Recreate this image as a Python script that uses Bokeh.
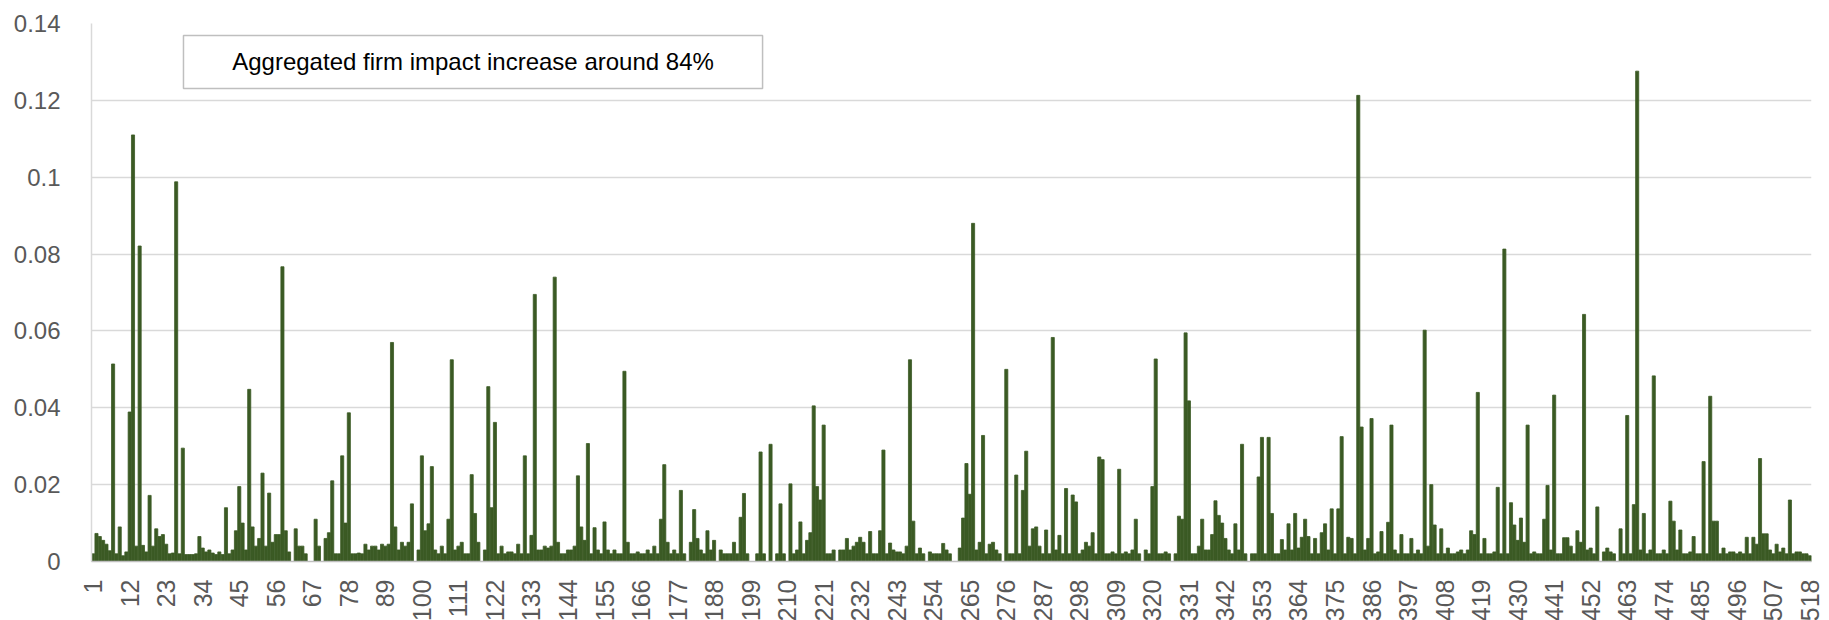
from bokeh.plotting import figure
from bokeh.models import FixedTicker, BoxAnnotation, Label, Range1d, NumeralTickFormatter
from bokeh.embed import file_html
from bokeh.resources import INLINE
import math

impact = [
    0.002, 0.0073, 0.0065, 0.0055, 0.0045, 0.0028, 0.0514, 0.002, 0.009, 0.0015,
    0.0025, 0.0389, 0.111, 0.004, 0.0821, 0.0042, 0.0025, 0.0172, 0.004, 0.0085,
    0.0065, 0.007, 0.0045, 0.002, 0.0022, 0.0988, 0.002, 0.0295, 0.0018, 0.0018,
    0.0018, 0.002, 0.0065, 0.0035, 0.0025, 0.003, 0.0022, 0.0018, 0.0025, 0.0018,
    0.014, 0.002, 0.003, 0.008, 0.0195, 0.010, 0.003, 0.0448, 0.009, 0.004,
    0.006, 0.023, 0.004, 0.0178, 0.005, 0.007, 0.007, 0.0767, 0.008, 0.0025,
    0, 0.0085, 0.004, 0.004, 0.002, 0, 0, 0.011, 0.004, 0,
    0.006, 0.0075, 0.021, 0.002, 0.002, 0.0275, 0.010, 0.0387, 0.002, 0.002,
    0.0022, 0.002, 0.0045, 0.003, 0.004, 0.004, 0.003, 0.0045, 0.004, 0.0045,
    0.057, 0.009, 0.003, 0.005, 0.004, 0.005, 0.015, 0, 0.003, 0.0275,
    0.008, 0.0098, 0.0247, 0.003, 0.002, 0.004, 0.002, 0.011, 0.0525, 0.003,
    0.004, 0.005, 0.002, 0.002, 0.0226, 0.0125, 0.005, 0, 0.003, 0.0455,
    0.014, 0.0362, 0.002, 0.004, 0.002, 0.0025, 0.0025, 0.002, 0.0045, 0.002,
    0.0275, 0.002, 0.0068, 0.0695, 0.003, 0.003, 0.004, 0.0035, 0.004, 0.074,
    0.005, 0.002, 0.002, 0.003, 0.003, 0.004, 0.0223, 0.009, 0.0055, 0.0307,
    0.002, 0.0088, 0.003, 0.002, 0.0103, 0.003, 0.002, 0.003, 0.002, 0.002,
    0.0495, 0.005, 0.002, 0.002, 0.0025, 0.002, 0.002, 0.003, 0.002, 0.004,
    0.002, 0.011, 0.0252, 0.005, 0.002, 0.003, 0.002, 0.0185, 0.002, 0,
    0.005, 0.0135, 0.006, 0.003, 0.002, 0.008, 0.003, 0.0055, 0, 0.003,
    0.002, 0.002, 0.002, 0.005, 0.002, 0.0115, 0.0177, 0.002, 0, 0,
    0.002, 0.0285, 0.002, 0, 0.0305, 0, 0.002, 0.015, 0.002, 0,
    0.0202, 0.002, 0.003, 0.0103, 0.002, 0.0055, 0.0075, 0.0405, 0.0195, 0.016,
    0.0355, 0.002, 0.002, 0.003, 0, 0.003, 0.003, 0.006, 0.003, 0.004,
    0.005, 0.0063, 0.005, 0.002, 0.0078, 0.002, 0.002, 0.008, 0.029, 0.002,
    0.0048, 0.003, 0.0025, 0.0025, 0.002, 0.004, 0.0525, 0.0105, 0.002, 0.0035,
    0.002, 0, 0.0025, 0.002, 0.002, 0.002, 0.0047, 0.003, 0.002, 0,
    0, 0.0035, 0.0113, 0.0255, 0.0175, 0.088, 0.003, 0.005, 0.0328, 0.002,
    0.0045, 0.005, 0.003, 0.002, 0, 0.050, 0.002, 0.002, 0.0225, 0.002,
    0.0185, 0.0287, 0.004, 0.0085, 0.009, 0.004, 0.002, 0.0082, 0.002, 0.0583,
    0.003, 0.0068, 0.002, 0.019, 0.002, 0.0173, 0.0155, 0.002, 0.003, 0.005,
    0.004, 0.0075, 0.002, 0.0272, 0.0265, 0.002, 0.002, 0.0025, 0.002, 0.024,
    0.002, 0.0025, 0.002, 0.003, 0.011, 0.002, 0, 0.003, 0.002, 0.0195,
    0.0527, 0.002, 0.002, 0.0025, 0.002, 0, 0.002, 0.0118, 0.011, 0.0595,
    0.0418, 0.002, 0.002, 0.004, 0.011, 0.003, 0.003, 0.007, 0.0158, 0.012,
    0.010, 0.006, 0.003, 0.002, 0.0098, 0.003, 0.0305, 0.002, 0, 0.002,
    0.002, 0.022, 0.0323, 0.002, 0.0323, 0.0125, 0.002, 0.002, 0.0057, 0.003,
    0.0098, 0.003, 0.0125, 0.0035, 0.0063, 0.011, 0.0065, 0.002, 0.006, 0.002,
    0.0075, 0.0098, 0.003, 0.0137, 0.002, 0.0137, 0.0325, 0.002, 0.0063, 0.006,
    0.002, 0.1213, 0.035, 0.003, 0.006, 0.0372, 0.002, 0.0025, 0.0078, 0.002,
    0.0102, 0.0355, 0.003, 0.002, 0.007, 0.002, 0.002, 0.006, 0.002, 0.003,
    0.002, 0.0602, 0.004, 0.020, 0.0095, 0.002, 0.0085, 0.002, 0.0035, 0.002,
    0.002, 0.0025, 0.003, 0.002, 0.003, 0.008, 0.007, 0.044, 0.002, 0.006,
    0.002, 0.002, 0.0025, 0.0193, 0.002, 0.0813, 0.002, 0.0153, 0.0095, 0.0055,
    0.0113, 0.005, 0.0355, 0.002, 0.0025, 0.002, 0.002, 0.011, 0.0198, 0.003,
    0.0433, 0.002, 0.002, 0.0062, 0.0062, 0.004, 0.002, 0.008, 0.005, 0.0643,
    0.003, 0.0035, 0.002, 0.0142, 0, 0.0025, 0.0035, 0.0025, 0.002, 0,
    0.0085, 0.002, 0.038, 0.002, 0.0148, 0.1276, 0.003, 0.0125, 0.002, 0.003,
    0.0483, 0.002, 0.002, 0.003, 0.002, 0.0157, 0.0105, 0.003, 0.0082, 0.002,
    0.002, 0.0025, 0.0065, 0.002, 0.002, 0.026, 0.002, 0.043, 0.0105, 0.0105,
    0.002, 0.0035, 0.002, 0.0025, 0.0025, 0.002, 0.0025, 0.002, 0.0063, 0.002,
    0.0063, 0.0045, 0.0268, 0.0072, 0.0072, 0.003, 0.002, 0.0045, 0.0025, 0.0035,
    0.002, 0.016, 0.002, 0.0025, 0.0025, 0.002, 0.002, 0.0015,
]
firms = list(range(1, len(impact) + 1))
x_tick_labels = [1, 12, 23, 34, 45, 56, 67, 78, 89, 100, 111, 122, 133, 144, 155,
                 166, 177, 188, 199, 210, 221, 232, 243, 254, 265, 276, 287, 298,
                 309, 320, 331, 342, 353, 364, 375, 386, 397, 408, 419, 430, 441,
                 452, 463, 474, 485, 496, 507, 518]
y_ticks = [0, 0.02, 0.04, 0.06, 0.08, 0.1, 0.12, 0.14]
note = "Aggregated firm impact increase around 84%"

FONT = "Liberation Sans"
BAR = "#3B5A24"

p = figure(frame_width=1720, frame_height=538, output_backend="svg",
           toolbar_location=None, x_range=Range1d(0.5, len(impact) + 0.5),
           y_range=Range1d(0, 0.14), min_border_left=91, min_border_right=14,
           min_border_top=23, min_border_bottom=54)
p.outline_line_color = None
p.background_fill_color = "white"
p.border_fill_color = "white"

p.vbar(x=firms, top=impact, width=0.93, fill_color=BAR, line_color=BAR, line_width=0.8)

xa = p.xaxis[0]
xa.ticker = FixedTicker(ticks=x_tick_labels)
xa.major_label_orientation = math.pi / 2
xa.major_tick_line_color = None
xa.minor_tick_line_color = None
xa.axis_line_color = "#BFBFBF"
xa.axis_line_width = 1.5
xa.major_label_text_font = FONT
xa.major_label_text_font_size = "25px"
xa.major_label_text_color = "#595959"
xa.major_label_standoff = 12

ya = p.yaxis[0]
ya.ticker = FixedTicker(ticks=y_ticks)
ya.formatter = NumeralTickFormatter(format="0.[00]")
ya.major_tick_line_color = None
ya.minor_tick_line_color = None
ya.axis_line_color = "#D9D9D9"
ya.axis_line_width = 1.5
ya.major_label_text_font = FONT
ya.major_label_text_font_size = "24px"
ya.major_label_text_color = "#595959"
ya.major_label_standoff = 25

p.xgrid.visible = False
p.ygrid.grid_line_color = "#D9D9D9"
p.ygrid.grid_line_width = 1.5

box = BoxAnnotation(left=28.2, right=202.6, bottom=0.1231, top=0.1369,
                    fill_color="white", fill_alpha=1.0,
                    line_color="#BFBFBF", line_alpha=1.0, line_width=1.5)
p.add_layout(box)
p.add_layout(Label(x=115.4, y=0.1300, text=note, text_align="center",
                   text_baseline="middle", text_font=FONT,
                   text_font_size="24px", text_color="#000000"))

open("out.html", "w").write(file_html(p, INLINE))
